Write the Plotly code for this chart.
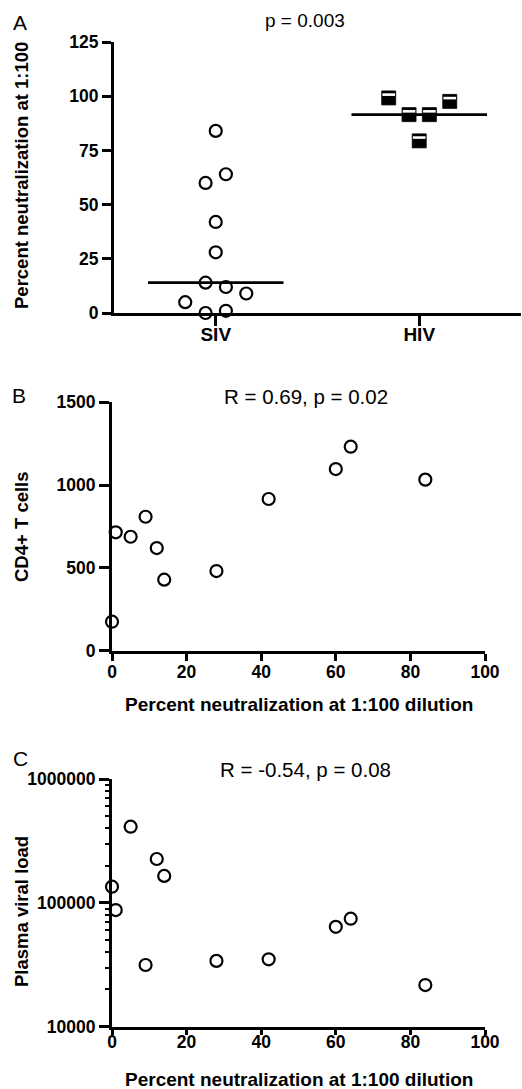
import numpy as np
import plotly.graph_objects as go

W, H = 522, 1089

# ---------------- data ----------------
groups = ["SIV", "HIV"]
siv_neut = [84, 64, 60, 42, 28, 14, 12, 9, 5, 0, 1]
siv_jitter = [0, 0.05, -0.05, 0, 0, -0.05, 0.05, 0.15, -0.15, -0.05, 0.05]
hiv_neut = [99.2, 91.5, 91.5, 97.6, 79.4]
hiv_jitter = [-0.15, -0.05, 0.05, 0.15, 0]

neut = [0, 1, 5, 9, 12, 14, 28, 42, 60, 64, 84]
cd4 = [175, 715, 688, 809, 620, 429, 481, 916, 1097, 1232, 1033]
viral_load = [135000, 87500, 412000, 31500, 226000, 165000, 34000, 35000, 64000, 74500, 21700]

a_yticks = [0, 25, 50, 75, 100, 125]
bc_xticks = [0, 20, 40, 60, 80, 100]
b_yticks = [0, 500, 1000, 1500]
c_yticks = [10000, 100000, 1000000]

title_a = "p = 0.003"
title_b = "R = 0.69, p = 0.02"
title_c = "R = -0.54, p = 0.08"
xlabel_bc = "Percent neutralization at 1:100 dilution"
ylabel_a = "Percent neutralization at 1:100"
ylabel_b = "CD4+ T cells"
ylabel_c = "Plasma viral load"

# ---------------- layout helpers ----------------
def fx(px):
    return px / W

def fy(py):
    return 1 - py / H

FONT = "Arial, Liberation Sans, Helvetica, sans-serif"
BLACK = "black"

fig = go.Figure()

circle = dict(symbol="circle-open", size=12, color=BLACK, line=dict(width=2.2, color=BLACK))

# ----- Panel A -----
siv_x = [0 + j for j in siv_jitter]
hiv_x = [1 + j for j in hiv_jitter]
fig.add_trace(go.Scatter(x=siv_x, y=siv_neut, mode="markers", marker=circle,
                         xaxis="x", yaxis="y", cliponaxis=False, showlegend=False))
fig.add_trace(go.Scatter(x=hiv_x, y=hiv_neut, mode="markers",
                         marker=dict(symbol="square", size=14, color=BLACK,
                                     line=dict(width=0.8, color=BLACK)),
                         xaxis="x", yaxis="y", cliponaxis=False, showlegend=False))
a_units_per_px = 125 / (313 - 42)
fig.add_trace(go.Scatter(x=hiv_x, y=[v + 3.3 * a_units_per_px for v in hiv_neut], mode="markers",
                         marker=dict(symbol="line-ew", size=9, color="white",
                                     line=dict(width=2.6, color="white")),
                         xaxis="x", yaxis="y", cliponaxis=False, showlegend=False,
                         hoverinfo="skip"))
for gi, vals in enumerate([siv_neut, hiv_neut]):
    med = float(np.median(vals))
    fig.add_trace(go.Scatter(x=[gi - 0.333, gi + 0.333], y=[med, med], mode="lines",
                             line=dict(color=BLACK, width=2.6),
                             xaxis="x", yaxis="y", cliponaxis=False, showlegend=False))

# ----- Panel B -----
fig.add_trace(go.Scatter(x=neut, y=cd4, mode="markers", marker=circle,
                         xaxis="x2", yaxis="y2", cliponaxis=False, showlegend=False))
# ----- Panel C -----
fig.add_trace(go.Scatter(x=neut, y=viral_load, mode="markers", marker=circle,
                         xaxis="x3", yaxis="y3", cliponaxis=False, showlegend=False))
# invisible copy so that the overlaying minor-tick axis is drawn
fig.add_trace(go.Scatter(x=neut, y=viral_load, mode="markers",
                         marker=dict(size=1, opacity=0, color="white"),
                         xaxis="x3", yaxis="y4", showlegend=False, hoverinfo="skip"))

tickfont = dict(family=FONT, size=17.5, color=BLACK, weight="bold")

def axis(**kw):
    d = dict(showline=True, linewidth=3, linecolor=BLACK, showgrid=False,
             zeroline=False, ticks="outside", tickwidth=2.5, tickcolor=BLACK,
             tickfont=tickfont)
    d.update(kw)
    return d

minor_c = [k * 10 ** d for d in (4, 5) for k in range(2, 10)]

fig.update_layout(
    width=W, height=H,
    margin=dict(l=0, r=0, t=0, b=0),
    paper_bgcolor="white", plot_bgcolor="white",
    template="none",
    showlegend=False,
    font=dict(family=FONT, color=BLACK),
    xaxis=axis(domain=[fx(114), 0.998], range=[-0.5, 1.5],
               tickvals=[0, 1], ticktext=groups, ticklen=10, ticklabelstandoff=-8,
               tickfont=dict(family=FONT, size=19, color=BLACK, weight="bold"),
               anchor="y"),
    yaxis=axis(domain=[fy(313), fy(42)], range=[0, 125],
               tickvals=a_yticks, ticklen=9, anchor="x"),
    xaxis2=axis(domain=[fx(112), fx(485)], range=[0, 100],
                tickvals=bc_xticks, ticklen=7, ticklabelstandoff=-4, anchor="y2"),
    yaxis2=axis(domain=[fy(650.7), fy(402.3)], range=[0, 1500],
                tickvals=b_yticks, ticklen=10, anchor="x2"),
    xaxis3=axis(domain=[fx(112), fx(485)], range=[0, 100],
                tickvals=bc_xticks, ticklen=5, ticklabelstandoff=-8, anchor="y3"),
    yaxis3=axis(type="log", domain=[fy(1026.7), fy(779)], range=[4, 6],
                tickvals=c_yticks, ticktext=[str(v) for v in c_yticks], ticklen=10,
                anchor="x3"),
    # minor ticks of the log axis, drawn by an overlaying axis
    yaxis4=dict(type="log", overlaying="y3", anchor="x3", side="left", range=[4, 6],
                tickvals=minor_c, ticks="outside", ticklen=6, tickwidth=2,
                tickcolor=BLACK, showticklabels=False, showline=False,
                showgrid=False, zeroline=False),
)

ann = []
def add_text(text, px, py, size, bold=False, angle=0):
    ann.append(dict(text=text, x=fx(px), y=fy(py), xref="paper", yref="paper",
                    showarrow=False, xanchor="center", yanchor="middle", textangle=angle,
                    font=dict(family=FONT, size=size, color=BLACK,
                              weight="bold" if bold else "normal")))

add_text("A", 20, 22, 21)
add_text("B", 19, 395, 21)
add_text("C", 20, 758, 21)
add_text(title_a, 305, 21, 19)
add_text(title_b, 305.5, 396, 20.5)
add_text(title_c, 305.5, 769, 20.5)
add_text(ylabel_a, 21, 176, 18.5, bold=True, angle=-90)
add_text(ylabel_b, 21, 527, 18.5, bold=True, angle=-90)
add_text(ylabel_c, 21, 912, 18.5, bold=True, angle=-90)
add_text(xlabel_bc, 299, 704, 19, bold=True)
add_text(xlabel_bc, 299, 1079, 19, bold=True)

fig.update_layout(annotations=ann)
fig.write_html("out.html",
               config={"displayModeBar": False},
               post_script="document.body.style.margin='0';document.body.style.overflow='hidden';")
